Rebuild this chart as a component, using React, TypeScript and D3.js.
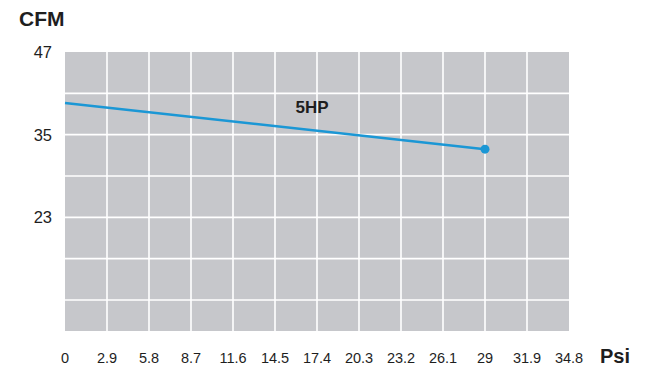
import * as React from "react";
import * as d3 from "d3";

const psiTicks = [0, 2.9, 5.8, 8.7, 11.6, 14.5, 17.4, 20.3, 23.2, 26.1, 29, 31.9, 34.8];
const cfmGrid = [47, 41, 35, 29, 23, 17, 11];
const cfmLabels = [47, 35, 23];
const seriesPsi = [0, 29];
const seriesCfm = [39.6, 32.9];
const seriesName = "5HP";

const App = () => {
  const width = 655;
  const height = 388;
  const margin = { top: 52, right: 86, bottom: 57, left: 65 };
  const innerW = width - margin.left - margin.right;
  const innerH = height - margin.top - margin.bottom;

  const x = d3.scaleLinear().domain([0, 34.8]).range([0, innerW]);
  const y = d3.scaleLinear().domain([6.5, 47]).range([innerH, 0]);

  const pts = seriesPsi.map((p, i) => ({ p, c: seriesCfm[i] }));
  const line = d3
    .line<{ p: number; c: number }>()
    .x((d) => x(d.p))
    .y((d) => y(d.c));
  const last = pts[pts.length - 1];

  const font = "'Liberation Sans', Arial, sans-serif";
  const ink = "#1e1e1e";
  const blue = "#1b97d5";

  return (
    <svg
      width={width}
      height={height}
      style={{ position: "absolute", left: 0, top: 0, background: "#fff" }}
    >
      <text x={19} y={26} fontFamily={font} fontSize="21" fontWeight="700" fill={ink}>
        CFM
      </text>
      <g transform={`translate(${margin.left}, ${margin.top})`}>
        <rect x={0} y={0} width={innerW} height={innerH} fill="#c6c7cb" />
        {cfmGrid.slice(1).map((v) => (
          <line key={"h" + v} x1={0} x2={innerW} y1={y(v)} y2={y(v)} stroke="#fff" strokeWidth="1.6" />
        ))}
        {psiTicks.slice(1, -1).map((v) => (
          <line key={"v" + v} x1={x(v)} x2={x(v)} y1={0} y2={innerH} stroke="#fff" strokeWidth="1.6" />
        ))}
        {cfmLabels.map((v) => (
          <text
            key={"yl" + v}
            x={-13}
            y={y(v)}
            dy="0.36em"
            textAnchor="end"
            fontFamily={font}
            fontSize="16.5"
            fill={ink}
          >
            {v}
          </text>
        ))}
        {psiTicks.map((v) => (
          <text
            key={"xl" + v}
            x={x(v)}
            y={innerH + 32}
            textAnchor="middle"
            fontFamily={font}
            fontSize="14.5"
            fill={ink}
          >
            {v}
          </text>
        ))}
        <path d={line(pts) ?? ""} fill="none" stroke={blue} strokeWidth="2.5" />
        <circle cx={x(last.p)} cy={y(last.c)} r="4.5" fill={blue} />
        <text x={x(14.5) + 37} y={y(38.3) + 1} textAnchor="middle" fontFamily={font} fontSize="17" fontWeight="700" fill={ink}>
          {seriesName}
        </text>
      </g>
      <text x={600} y={363} fontFamily={font} fontSize="20" fontWeight="700" fill={ink}>
        Psi
      </text>
    </svg>
  );
};

export default App;
